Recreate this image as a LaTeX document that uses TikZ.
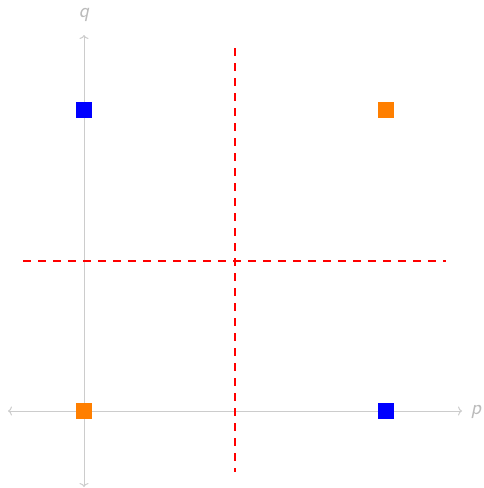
\documentclass[tikz,border=0pt]{standalone}
\usetikzlibrary{arrows.meta}
\definecolor{axisgray}{HTML}{CCCCCC}
\definecolor{labelgray}{HTML}{BBBBBB}
\definecolor{sqblue}{HTML}{0000FF}
\definecolor{sqorange}{HTML}{FF7F00}
\definecolor{dashred}{HTML}{FF0000}
\tikzset{
  axis/.style={draw=axisgray, line width=1pt, {To[length=4pt,width=9pt]}-{To[length=4pt,width=9pt]}},
  axlabel/.style={text=labelgray, font=\fontsize{21}{24}\selectfont\sffamily\itshape, inner sep=0pt, anchor=base},
  sq/.style={minimum size=16pt, inner sep=0pt, draw=none},
  divider/.style={draw=dashred, line width=2pt, dash pattern=on 8pt off 7pt},
}
\begin{document}
\begin{tikzpicture}[x=1pt,y=-1pt]
\useasboundingbox (0,0) rectangle (483,488);
\coordinate (xl) at (8,411);
\coordinate (xr) at (462,411);
\coordinate (yt) at (84,35);
\coordinate (yb) at (84,487);
\draw[axis] (xl) -- (xr);
\draw[axis] (yb) -- (yt);
\node[axlabel] (p) at (476,414) {p};
\node[axlabel] (q) at (84,17) {q};
\coordinate (vt) at (235,48);
\coordinate (vb) at (235,472);
\coordinate (hl) at (23,261);
\coordinate (hr) at (446,261);
\draw[divider] (vt) -- (vb);
\draw[divider] (hl) -- (hr);
\node[sq, fill=sqblue] (b1) at (84,110) {};
\node[sq, fill=sqorange] (o1) at (386,110) {};
\node[sq, fill=sqorange] (o2) at (84,411) {};
\node[sq, fill=sqblue] (b2) at (386,411) {};
\end{tikzpicture}
\end{document}
